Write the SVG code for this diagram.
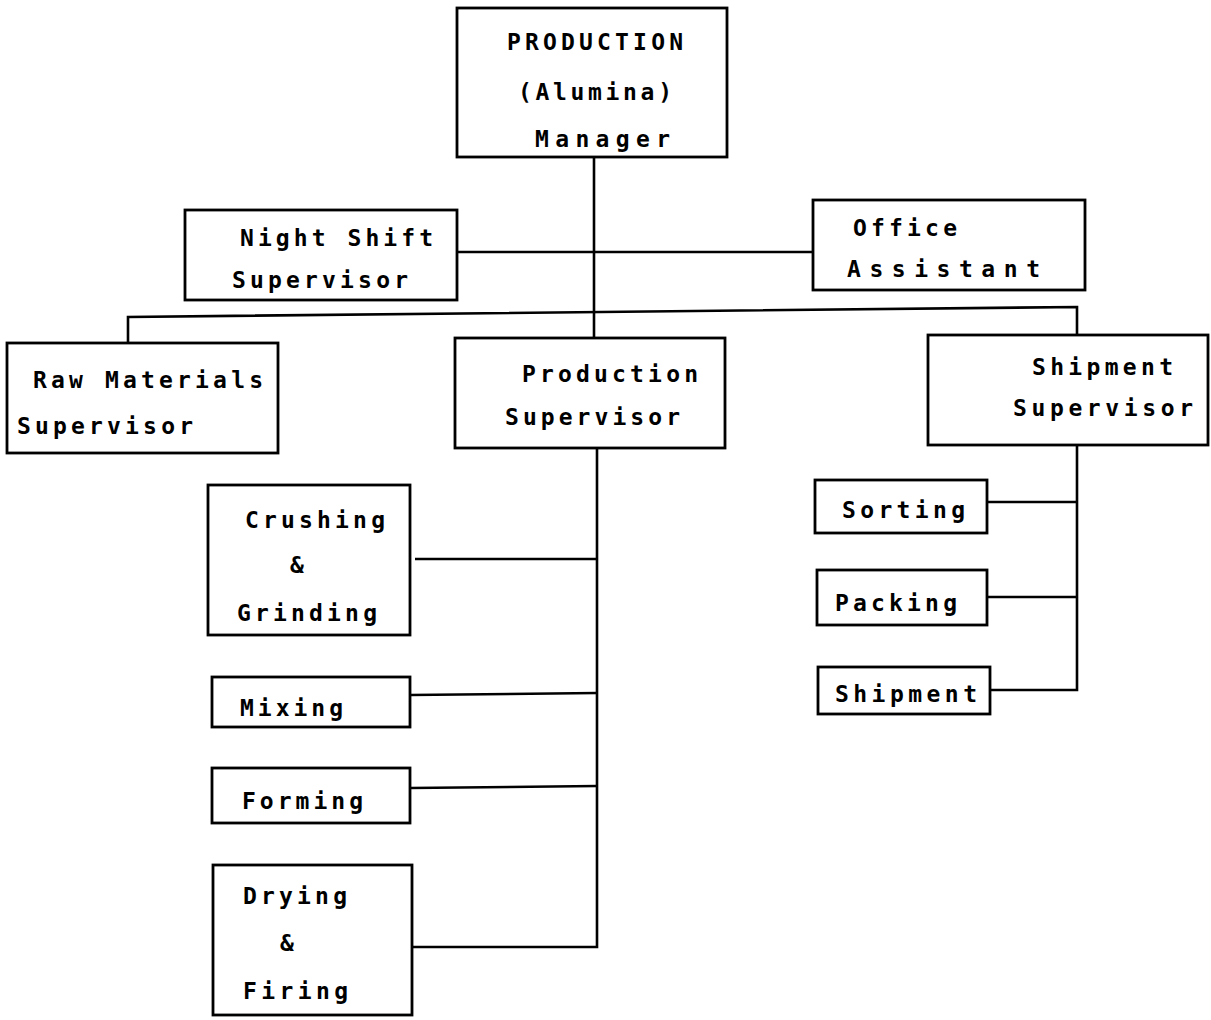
<svg xmlns="http://www.w3.org/2000/svg" width="1211" height="1020" viewBox="0 0 1211 1020">
<style>
.box{fill:none;stroke:#000;stroke-width:2.8}
.ln{fill:none;stroke:#000;stroke-width:2.6}
text{font-family:"DejaVu Sans Mono","Liberation Mono",monospace;font-weight:bold;font-size:23px;fill:#000}
</style>
<rect width="1211" height="1020" fill="#fff"/>
<g id="connectors">
<path class="ln" d="M594 157 V338"/>
<path class="ln" d="M457 252 H813"/>
<path class="ln" d="M128 343 V317 L1077 307 V335"/>
<path class="ln" d="M597 448 V947 H412"/>
<path class="ln" d="M415 559 H597"/>
<path class="ln" d="M410 695 L597 693"/>
<path class="ln" d="M410 788 L597 786"/>
<path class="ln" d="M1077 445 V690 H990"/>
<path class="ln" d="M987 502 H1077"/>
<path class="ln" d="M987 597 H1077"/>
</g>
<g id="manager">
<rect class="box" x="457" y="8" width="270" height="149"/>
<text x="507" y="50" textLength="176" lengthAdjust="spacing">PRODUCTION</text>
<text x="518" y="100" textLength="154" lengthAdjust="spacing">(Alumina)</text>
<text x="535" y="147" textLength="135" lengthAdjust="spacing">Manager</text>
</g>
<g id="night-shift">
<rect class="box" x="185" y="210" width="272" height="90"/>
<text x="240" y="246" textLength="193" lengthAdjust="spacing">Night Shift</text>
<text x="232" y="288" textLength="176" lengthAdjust="spacing">Supervisor</text>
</g>
<g id="office">
<rect class="box" x="813" y="200" width="272" height="90"/>
<text x="853" y="236" textLength="104" lengthAdjust="spacing">Office</text>
<text x="847" y="277" textLength="193" lengthAdjust="spacing">Assistant</text>
</g>
<g id="raw-materials">
<rect class="box" x="7" y="343" width="271" height="110"/>
<text x="33" y="388" textLength="230" lengthAdjust="spacing">Raw Materials</text>
<text x="17" y="434" textLength="176" lengthAdjust="spacing">Supervisor</text>
</g>
<g id="production-supervisor">
<rect class="box" x="455" y="338" width="270" height="110"/>
<text x="522" y="382" textLength="176" lengthAdjust="spacing">Production</text>
<text x="505" y="425" textLength="175" lengthAdjust="spacing">Supervisor</text>
</g>
<g id="shipment-supervisor">
<rect class="box" x="928" y="335" width="280" height="110"/>
<text x="1032" y="375" textLength="141" lengthAdjust="spacing">Shipment</text>
<text x="1013" y="416" textLength="180" lengthAdjust="spacing">Supervisor</text>
</g>
<g id="crushing">
<rect class="box" x="208" y="485" width="202" height="150"/>
<text x="245" y="528" textLength="140" lengthAdjust="spacing">Crushing</text>
<text x="290" y="573">&amp;</text>
<text x="237" y="621" textLength="140" lengthAdjust="spacing">Grinding</text>
</g>
<g id="mixing">
<rect class="box" x="212" y="677" width="198" height="50"/>
<text x="240" y="716" textLength="103" lengthAdjust="spacing">Mixing</text>
</g>
<g id="forming">
<rect class="box" x="212" y="768" width="198" height="55"/>
<text x="242" y="809" textLength="121" lengthAdjust="spacing">Forming</text>
</g>
<g id="drying">
<rect class="box" x="213" y="865" width="199" height="150"/>
<text x="243" y="904" textLength="104" lengthAdjust="spacing">Drying</text>
<text x="280" y="951">&amp;</text>
<text x="243" y="999" textLength="105" lengthAdjust="spacing">Firing</text>
</g>
<g id="sorting">
<rect class="box" x="815" y="480" width="172" height="53"/>
<text x="842" y="518" textLength="123" lengthAdjust="spacing">Sorting</text>
</g>
<g id="packing">
<rect class="box" x="817" y="570" width="170" height="55"/>
<text x="835" y="611" textLength="122" lengthAdjust="spacing">Packing</text>
</g>
<g id="shipment">
<rect class="box" x="818" y="667" width="172" height="47"/>
<text x="835" y="702" textLength="142" lengthAdjust="spacing">Shipment</text>
</g>
</svg>
